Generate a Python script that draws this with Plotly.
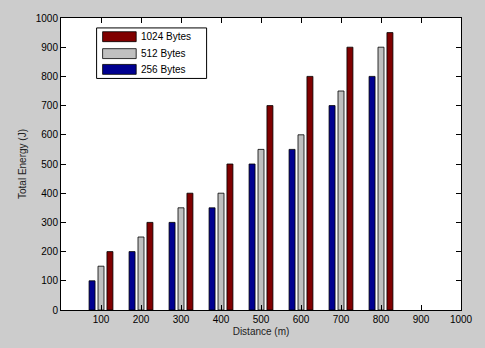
import plotly.graph_objects as go

distances = [100, 200, 300, 400, 500, 600, 700, 800]
energy_256 = [100, 200, 300, 350, 500, 550, 700, 800]
energy_512 = [150, 250, 350, 400, 550, 600, 750, 900]
energy_1024 = [200, 300, 400, 500, 700, 800, 900, 950]
series_names = ["256 Bytes", "512 Bytes", "1024 Bytes"]
series_colors = ["#000090", "#c0c0c0", "#800000"]
x_ticks = [100, 200, 300, 400, 500, 600, 700, 800, 900, 1000]
y_ticks = [0, 100, 200, 300, 400, 500, 600, 700, 800, 900, 1000]

FONT = "Liberation Sans, Arial, sans-serif"

fig = go.Figure()
for name, vals, col in zip(series_names, [energy_256, energy_512, energy_1024], series_colors):
    fig.add_trace(go.Bar(x=distances, y=vals, name=name, marker_color=col,
                         marker_line_color="black", marker_line_width=0.8,
                         showlegend=False))

fig.update_layout(
    width=485, height=348,
    margin=dict(l=61, r=20, t=15, b=38),
    paper_bgcolor="#cccccc", plot_bgcolor="white",
    barmode="group", bargap=0.33, bargroupgap=0.33,
    font=dict(family=FONT, size=10, color="black"),
    xaxis=dict(range=[0, 1000], tickvals=x_ticks, ticktext=[str(v) for v in x_ticks],
               ticks="inside", ticklen=5, tickcolor="black", showgrid=False, zeroline=False,
               showline=True, linecolor="black", linewidth=1, mirror="ticks",
               title=dict(text="Distance (m)", standoff=3, font=dict(size=10, color="#222")),
               tickfont=dict(size=10)),
    yaxis=dict(range=[0, 1000], tickvals=y_ticks, ticks="inside", ticklen=5, tickcolor="black",
               showgrid=False, zeroline=False, showline=True, linecolor="black", linewidth=1,
               mirror="ticks",
               title=dict(text="Total Energy (J)", standoff=7, font=dict(size=10, color="#222")),
               tickfont=dict(size=10)),
)

# Legend drawn manually (MATLAB style with wide swatches)
shapes = [dict(type="rect", xref="paper", yref="paper", x0=0.089, x1=0.364, y0=0.793, y1=0.966,
               fillcolor="white", line=dict(color="black", width=1), layer="above")]
annotations = []
rows_y = [0.936, 0.878, 0.824]
legend_order = [2, 1, 0]
for ry, idx in zip(rows_y, legend_order):
    shapes.append(dict(type="rect", xref="paper", yref="paper", x0=0.104, x1=0.188,
                       y0=ry - 0.017, y1=ry + 0.017, fillcolor=series_colors[idx],
                       line=dict(color="black", width=0.8), layer="above"))
    annotations.append(dict(xref="paper", yref="paper", x=0.195, y=ry, text=series_names[idx],
                            showarrow=False, xanchor="left", yanchor="middle",
                            font=dict(family=FONT, size=10, color="black")))
fig.update_layout(shapes=shapes, annotations=annotations)

fig.write_html("out.html")
